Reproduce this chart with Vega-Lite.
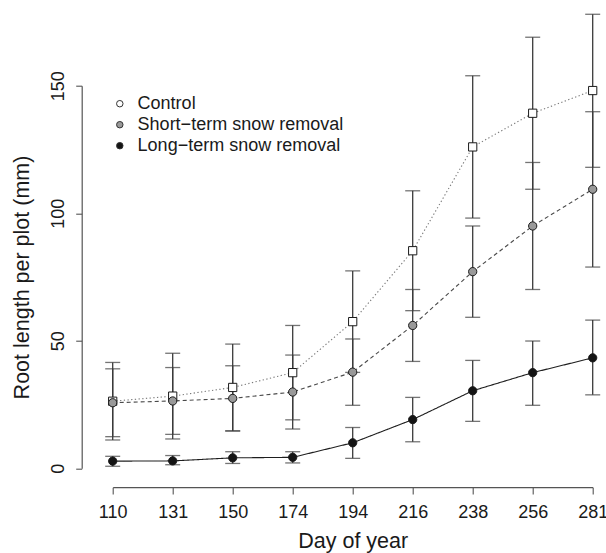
{
  "$schema": "https://vega.github.io/schema/vega-lite/v6.json",
  "autosize": "none",
  "width": 480,
  "height": 382.6,
  "padding": {"left": 112.7, "top": 85.7, "right": 13.3, "bottom": 84.7},
  "background": "white",
  "config": {
    "view": {"stroke": null},
    "font": "Liberation Sans",
    "axis": {"grid": false, "domainColor": "#555555", "tickColor": "#555555", "domainWidth": 1.2, "tickWidth": 1.1, "labelColor": "#1a1a1a", "titleColor": "#1a1a1a", "labelFontSize": 18, "titleFontSize": 21.5, "titleFontWeight": "normal", "labelFont": "Liberation Sans", "titleFont": "Liberation Sans"}
  },
  "data": {
    "values": [
      {"day": 110, "treatment": "Control", "mean": 26.3, "lo": 11.1, "hi": 41.5},
      {"day": 131, "treatment": "Control", "mean": 28.3, "lo": 11.5, "hi": 45.1},
      {"day": 150, "treatment": "Control", "mean": 31.7, "lo": 14.7, "hi": 48.7},
      {"day": 174, "treatment": "Control", "mean": 37.5, "lo": 19.0, "hi": 56.0},
      {"day": 194, "treatment": "Control", "mean": 57.5, "lo": 37.6, "hi": 77.4},
      {"day": 216, "treatment": "Control", "mean": 85.3, "lo": 61.8, "hi": 108.8},
      {"day": 238, "treatment": "Control", "mean": 126.0, "lo": 98.1, "hi": 153.9},
      {"day": 256, "treatment": "Control", "mean": 139.2, "lo": 109.4, "hi": 169.0},
      {"day": 281, "treatment": "Control", "mean": 148.1, "lo": 118.0, "hi": 178.0},
      {"day": 110, "treatment": "Short−term snow removal", "mean": 25.7, "lo": 12.4, "hi": 39.0},
      {"day": 131, "treatment": "Short−term snow removal", "mean": 26.4, "lo": 13.3, "hi": 39.5},
      {"day": 150, "treatment": "Short−term snow removal", "mean": 27.4, "lo": 14.6, "hi": 40.2},
      {"day": 174, "treatment": "Short−term snow removal", "mean": 29.9, "lo": 15.4, "hi": 44.4},
      {"day": 194, "treatment": "Short−term snow removal", "mean": 37.7, "lo": 24.7, "hi": 50.7},
      {"day": 216, "treatment": "Short−term snow removal", "mean": 56.0, "lo": 41.9, "hi": 70.1},
      {"day": 238, "treatment": "Short−term snow removal", "mean": 77.1, "lo": 59.2, "hi": 95.0},
      {"day": 256, "treatment": "Short−term snow removal", "mean": 95.0, "lo": 70.1, "hi": 119.9},
      {"day": 281, "treatment": "Short−term snow removal", "mean": 109.4, "lo": 78.9, "hi": 139.8},
      {"day": 110, "treatment": "Long−term snow removal", "mean": 2.8, "lo": 0.8, "hi": 4.7},
      {"day": 131, "treatment": "Long−term snow removal", "mean": 2.9, "lo": 1.4, "hi": 5.0},
      {"day": 150, "treatment": "Long−term snow removal", "mean": 4.1, "lo": 1.9, "hi": 6.5},
      {"day": 174, "treatment": "Long−term snow removal", "mean": 4.3, "lo": 2.1, "hi": 6.5},
      {"day": 194, "treatment": "Long−term snow removal", "mean": 10.0, "lo": 3.9, "hi": 16.0},
      {"day": 216, "treatment": "Long−term snow removal", "mean": 19.1, "lo": 10.4, "hi": 27.8},
      {"day": 238, "treatment": "Long−term snow removal", "mean": 30.4, "lo": 18.4, "hi": 42.3},
      {"day": 256, "treatment": "Long−term snow removal", "mean": 37.5, "lo": 24.7, "hi": 49.9},
      {"day": 281, "treatment": "Long−term snow removal", "mean": 43.3, "lo": 28.8, "hi": 58.1}
    ]
  },
  "encoding": {
    "x": {
      "field": "day", "type": "ordinal",
      "scale": {"type": "point", "padding": 0},
      "axis": {"title": "Day of year", "labelAngle": 0, "offset": 18.9, "tickSize": 6.7, "labelPadding": 23.3, "labelBaseline": "alphabetic", "titleBaseline": "alphabetic", "titleY": 59.8}
    }
  },
  "layer": [
    {
      "mark": {"type": "rule", "color": "#3a3a3a", "strokeWidth": 1.3},
      "encoding": {
        "y": {"field": "lo", "type": "quantitative", "title": "Root length per plot (mm)",
          "scale": {"domain": [0, 150], "nice": false, "zero": false},
          "axis": {"values": [0, 50, 100, 150], "labelAngle": -90, "labelAlign": "center", "labelBaseline": "alphabetic", "offset": 31, "tickSize": 6, "labelPadding": 12.4, "titleBaseline": "alphabetic", "titleX": -53.2}},
        "y2": {"field": "hi"}
      }
    },
    {
      "mark": {"type": "tick", "color": "#3a3a3a", "thickness": 1.3, "size": 15},
      "encoding": {"y": {"field": "lo", "type": "quantitative", "title": "Root length per plot (mm)"}}
    },
    {
      "mark": {"type": "tick", "color": "#3a3a3a", "thickness": 1.3, "size": 15},
      "encoding": {"y": {"field": "hi", "type": "quantitative", "title": "Root length per plot (mm)"}}
    },
    {
      "mark": {"type": "line", "strokeWidth": 1.1},
      "encoding": {
        "y": {"field": "mean", "type": "quantitative", "title": "Root length per plot (mm)"},
        "color": {"field": "treatment", "type": "nominal", "legend": null,
          "scale": {"domain": ["Long−term snow removal", "Short−term snow removal", "Control"], "range": ["#1e1e1e", "#4a4a4a", "#7a7a7a"]}},
        "strokeDash": {"field": "treatment", "type": "nominal", "legend": null,
          "scale": {"domain": ["Long−term snow removal", "Short−term snow removal", "Control"], "range": [[1, 0], [4, 3], [1.3, 2.4]]}}
      }
    },
    {
      "mark": {"type": "point", "filled": true, "stroke": "#1a1a1a", "strokeWidth": 1, "size": 68, "opacity": 1},
      "encoding": {
        "y": {"field": "mean", "type": "quantitative", "title": "Root length per plot (mm)"},
        "shape": {"field": "treatment", "type": "nominal", "legend": null,
          "scale": {"domain": ["Long−term snow removal", "Short−term snow removal", "Control"], "range": ["circle", "circle", "square"]}},
        "fill": {"field": "treatment", "type": "nominal",
          "scale": {"domain": ["Control", "Short−term snow removal", "Long−term snow removal"], "range": ["#ffffff", "#999999", "#141414"]},
          "legend": {
            "orient": "none", "legendX": -1.9, "legendY": 9, "title": null, "padding": 0,
            "symbolType": "circle", "symbolSize": 42, "symbolStrokeColor": "#333333", "symbolStrokeWidth": 1, "symbolOpacity": 1,
            "labelFontSize": 18, "labelFont": "Liberation Sans", "labelOffset": 8.8, "labelLimit": 500, "rowPadding": 3, "labelColor": "#1a1a1a"
          }
        }
      }
    }
  ]
}
